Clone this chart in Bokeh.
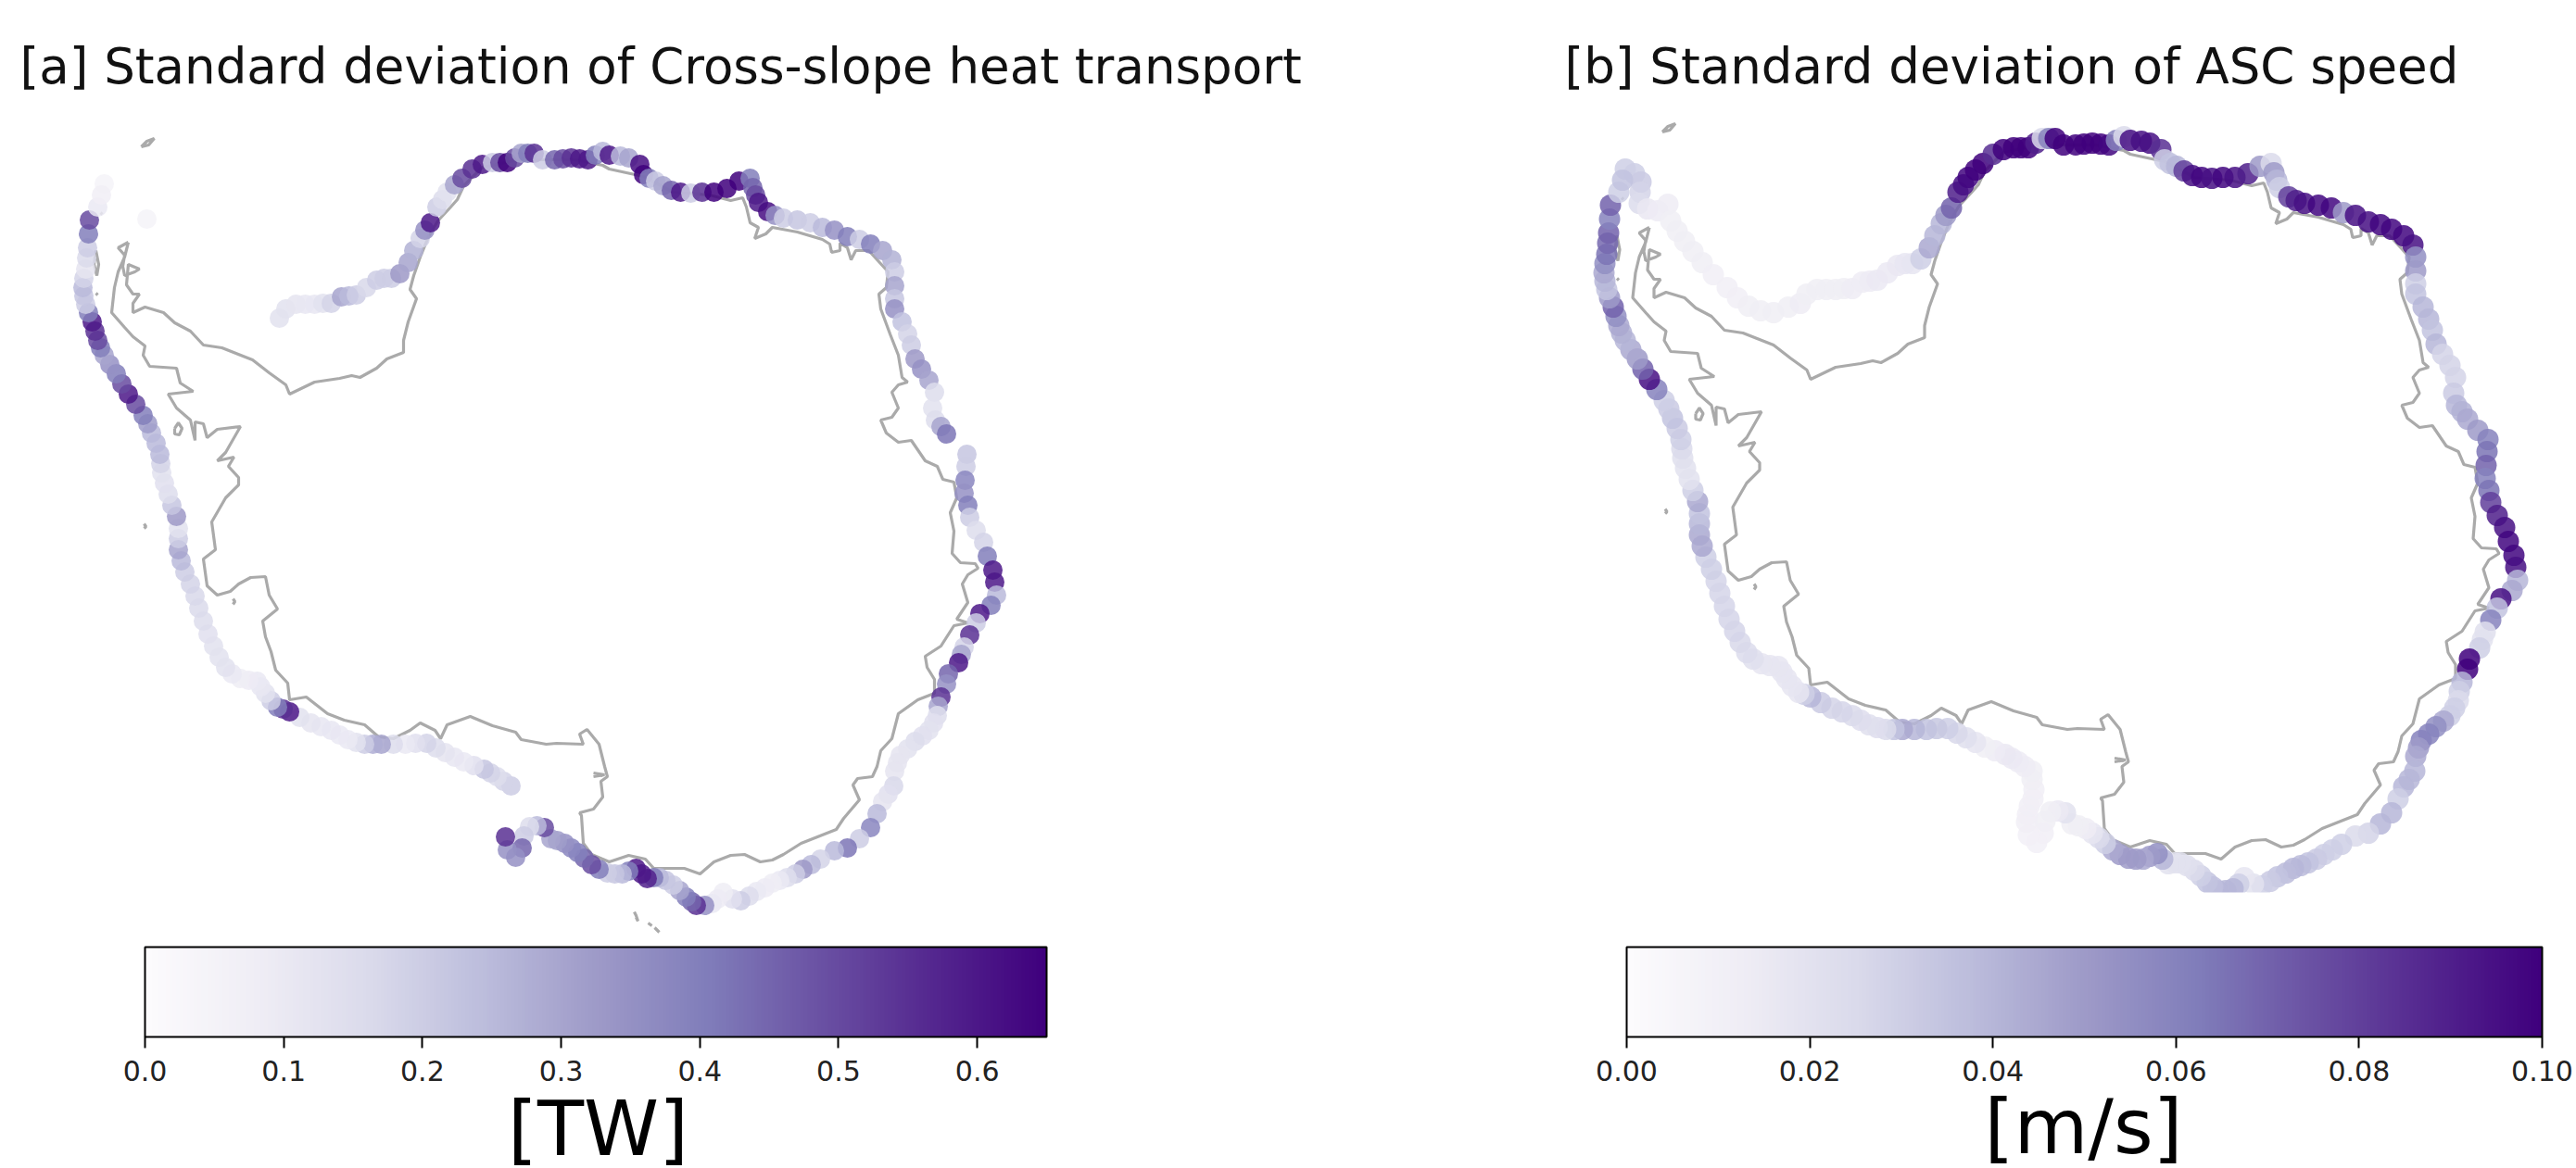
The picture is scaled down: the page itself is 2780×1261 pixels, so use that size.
import numpy as np
from bokeh.core.properties import value
from bokeh.embed import file_html
from bokeh.layouts import row
from bokeh.models import ColorBar, ColumnDataSource, FixedTicker, LinearColorMapper, Range1d
from bokeh.palettes import Purples256
from bokeh.plotting import figure
from bokeh.resources import INLINE
from bokeh.transform import transform

n = float("nan")

track_x = [
 112,122,129,128,127,136,147,158,161,168,
 176,185,195,207,222,233,245,258,272,288,
 301,308,319,329,339,348,357,368,376,384,
 395,406,414,422,431,440,446,453,458,464,
 471,477,482,490,498,509,520,531,539,547,
 555,562,569,576,585,598,607,616,625,634,
 642,650,657,669,678,690,694,700,707,715,
 724,734,745,757,770,784,797,809,812,815,
 818,828,836,845,860,874,887,900,914,927,
 939,952,962,965,965,965,965,973,979,983,
 987,994,1002,1008,1006,1009,1015,1021,1032,1043,
 1042,1041,1040,1044,1046,1053,1061,1065,1071,1073,
 1075,1069,1057,1053,1046,1040,1037,1034,1023,1021,
 1015,1012,1011,1007,1002,995,987,979,971,968,
 965,964,958,952,946,939,927,914,900,885,
 875,866,858,849,841,833,825,816,808,799,
 790,780,774,768,760,751,746,740,733,726,
 718,711,705,698,692,686,678,671,663,655,
 646,638,630,623,616,609,601,594,587,579,
 571,565,563,556,547,545,546,548,552,553,
 551,551,543,536,529,522,511,500,490,480,
 470,460,448,437,424,411,402,393,384,375,
 366,357,346,335,323,312,305,299,292,286,
 281,277,268,259,250,243,236,230,224,219,
 214,210,205,199,195,192,192,192,190,185,
 181,177,174,173,172,168,163,159,154,146,
 138,131,125,118,112,108,105,102,99,95,
 92,90,89,90,92,93,94,95,96,105,
 109]
track_y = [
 198,203,212,223,235,241,243,236,254,265,
 276,287,299,312,326,337,346,351,353,347,
 343,333,328,328,328,327,327,320,319,318,
 310,302,300,300,295,283,270,257,248,240,
 223,215,207,199,192,182,177,175,175,175,
 170,165,165,165,172,172,171,170,171,172,
 167,163,167,168,170,177,188,192,195,200,
 205,207,208,207,207,203,195,192,202,210,
 218,228,232,235,237,240,245,248,255,258,
 263,270,280,293,308,322,333,347,360,372,
 387,398,410,423,440,453,460,468,480,490,
 503,518,532,545,558,572,585,600,615,628,
 642,653,662,672,685,698,706,715,727,738,
 752,762,772,780,788,794,800,808,815,823,
 832,848,857,865,878,893,905,915,918,927,
 933,938,943,947,950,953,958,962,967,972,
 970,963,970,975,977,977,973,968,961,955,
 950,947,947,948,943,937,940,943,943,942,
 938,933,926,920,915,910,907,905,893,891,
 892,902,915,925,917,903,895,886,878,868,
 857,848,843,838,834,830,826,822,817,812,
 807,802,802,803,803,803,803,803,801,798,
 793,788,784,780,774,768,765,763,756,748,
 741,735,734,732,727,720,709,697,684,670,
 656,643,630,617,605,593,581,570,557,545,
 533,521,510,500,490,478,467,457,448,436,
 425,414,403,393,383,375,367,357,347,337,
 328,319,310,300,290,278,267,252,237,223,
 210]
heat_std = [
 .05,n,n,n,n,n,n,.05,n,n,
 n,n,n,n,n,n,n,n,n,n,
 .13,.13,.12,.11,.11,.13,.18,.3,.25,.2,
 .17,.2,.2,.2,.33,.3,.27,.18,.35,.6,
 .2,.15,.13,.3,.5,.55,.6,.2,.5,.65,
 .5,.3,.4,.55,.2,.45,.5,.55,.6,.6,
 .4,.25,.6,.25,.3,.62,.65,.4,.2,.3,
 .45,.6,.2,.55,.65,.65,.65,.4,.45,.5,
 .6,.62,.35,.2,.22,.2,.25,.35,.4,.2,
 .4,.3,.27,.2,.3,.22,.35,.23,.18,.2,
 .33,.35,.3,.15,.13,.15,.3,.42,n,.22,
 .2,.38,.35,.4,.2,.15,.18,.4,.6,.6,
 .25,.4,.6,.2,.55,.18,.3,.6,.45,.35,
 .55,.3,.15,.14,.13,.14,.15,.13,.12,.12,
 .12,.17,.14,.12,.25,.38,.2,.42,.25,.18,
 .25,.33,.2,.15,.1,.08,.09,.1,.15,.2,
 .14,.08,.09,.1,.35,.55,.45,.4,.3,.2,
 .22,.25,.4,.58,.6,.6,.4,.25,.22,.2,
 .4,.5,.45,.4,.38,.35,.32,.3,.5,.25,
 .15,.2,.45,.35,.35,.55,n,n,n,n,
 n,.2,.18,.15,.18,.22,.14,.1,.11,.12,
 .15,.18,.14,.1,.15,.3,.28,.2,.13,.1,
 .1,.11,.11,.12,.13,.6,.55,.4,.2,.13,
 .11,.1,.09,.08,.1,.13,.13,.13,.14,.15,
 .16,.17,.18,.2,.25,.3,.2,.13,.33,.22,
 .15,.14,.13,.18,.25,.25,.25,.32,.4,.5,
 .6,.5,.4,.35,.3,.4,.5,.55,.6,.4,
 .2,.22,.25,.18,.12,.16,.2,.4,.5,.1,
 .07]
speed_std = [
 .03,.03,.032,.028,.024,.016,.014,.013,.012,.012,
 .012,.012,.012,.011,.011,.011,.012,.012,.012,.012,
 .013,.012,.012,.012,.012,.012,.013,.013,.014,.015,
 .015,.016,.017,.018,.03,.045,.04,.04,.05,.07,
 .09,.095,.098,.1,.1,.085,.1,.1,.1,.1,
 .09,.025,.06,.1,.1,.1,.1,.1,.1,.098,
 .06,.025,.095,.095,.095,.085,.03,.035,.04,.08,
 .095,.098,.095,.098,.095,.09,.05,.025,.05,.04,
 .03,.08,.09,.095,.098,.098,.05,.095,.095,.098,
 .098,.098,.095,.055,.05,.03,.035,.04,.04,.035,
 .04,.028,.028,.028,.032,.04,.042,.045,.05,.06,
 .065,.07,.06,.065,.08,.09,.095,.098,.098,.095,
 .04,.045,.095,.035,.06,.022,.02,.03,.1,.1,
 .04,.03,.025,.03,.03,.045,.055,.06,.06,.05,
 .045,.04,.04,.04,.03,.04,.04,.028,.025,.03,
 .03,.03,.032,.035,.038,.04,.038,.035,.032,.03,
 .02,.018,.03,.04,.04,.04,.037,.035,.03,.025,
 .022,.02,.02,.02,.04,.055,.05,.045,.05,.05,
 .05,.045,.03,.025,.018,.013,.012,.012,.02,.015,
 .012,.012,.011,.01,.01,.011,.011,.011,.011,.011,
 .012,.012,.013,.014,.015,.016,.014,.012,.018,.022,
 .026,.03,.033,.035,.04,.045,.035,.025,.023,.022,
 .023,.025,.027,.028,.032,.04,.03,.018,.018,.018,
 .018,.018,.018,.018,.022,.024,.026,.027,.027,.027,
 .027,.027,.03,.03,.045,.045,.04,.035,.045,.03,
 .02,.02,.022,.025,.03,.032,.035,.032,.03,.06,
 .095,.07,.05,.045,.04,.042,.045,.055,.07,.05,
 .035,.04,.045,.055,.065,.068,.07,.06,.07,.03,
 .035]

coast_x = [138,127,134,132,134,145,150,138,136,143,150,143,143,156,176,188,205,219,239,272,290,308,312,339,366,379,388,406,417,435,435,440,449,442,446,453,462,472,485,493,500,520,560,620,650,657,694,726,765,788,801,805,809,818,814,826,833,860,887,895,897,906,906,914,918,923,937,958,956,948,950,960,969,973,979,969,962,969,962,950,956,969,983,998,1011,1017,1029,1032,1025,1029,1027,1036,1052,1055,1044,1038,1044,1032,1044,1029,1015,998,1000,1008,1008,990,969,962,950,946,941,925,920,927,910,902,864,845,833,820,803,788,770,755,738,705,696,678,657,638,629,627,625,640,650,648,655,652,646,633,625,629,600,589,562,556,531,507,482,475,469,453,442,424,408,393,371,353,330,312,310,297,292,286,283,299,290,286,270,257,248,234,223,219,232,228,243,257,257,246,252,234,243,259,234,223,219,210,210,205,190,181,208,194,190,161,154,156,143,134,120,123,127,134,138]
coast_y = [261,267,275,287,297,293,290,285,307,317,317,327,337,331,337,348,357,372,375,388,402,415,425,412,408,405,407,397,387,380,367,347,322,312,297,277,255,238,224,215,200,180,172,172,178,182,190,207,210,216,213,223,240,245,257,252,245,250,258,263,272,270,262,267,280,270,270,293,310,317,333,360,383,407,412,415,423,440,450,453,467,477,475,497,503,517,520,537,553,573,597,607,608,613,620,630,650,668,672,675,697,708,720,733,748,755,770,797,810,827,838,840,847,863,883,895,910,922,928,930,922,923,930,943,937,937,927,923,930,922,910,880,877,873,860,843,838,827,803,787,792,803,802,803,798,790,783,773,782,797,788,780,788,797,795,782,777,770,752,755,737,723,703,687,670,657,642,622,623,630,638,642,632,603,593,563,537,523,515,503,493,497,488,460,463,472,457,455,475,453,440,425,422,413,397,395,383,373,363,353,337,310,293,277,261]

islands_x = [[152,158,166,160,152],[155,157,155],[188,192,196,193,188,188],[251,253,251],[684,686,688,686],[699,703],[706,711],[640,652,640],[108,110],[103,105],[103,106,104,101,103],[644,650]]
islands_y = [[158,152,149,156,158],[565,568,570],[462,456,462,469,468,462],[646,649,652],[984,988,994,990],[996,999],[1001,1006],[834,836,838],[229,231],[316,318],[270,285,297,285,270],[835,837]]

panels = [
    dict(title="[a] Standard deviation of Cross-slope heat transport", vals=heat_std, high=0.65,
         ticks=[0.0, 0.1, 0.2, 0.3, 0.4, 0.5, 0.6], labels=["0.0", "0.1", "0.2", "0.3", "0.4", "0.5", "0.6"],
         unit="[TW]", unit_x=645, unit_y=1218, xr=(0, 1500), yr=(1261, 103), width=1500,
         bar_left=156, bar_width=973, title_off=21, size=21, mask_from=None),
    dict(title="[b] Standard deviation of ASC speed", vals=speed_std, high=0.10,
         ticks=[0.00, 0.02, 0.04, 0.06, 0.08, 0.10], labels=["0.00", "0.02", "0.04", "0.06", "0.08", "0.10"],
         unit="[m/s]", unit_x=606.5, unit_y=1232, xr=(1500 - 1641.5, 2780 - 1641.5), yr=(1277, 119), width=1280,
         bar_left=255, bar_width=988, title_off=188, size=23, mask_from=979),
]

figs = []
for cfg in panels:
    p = figure(width=cfg["width"], height=1261, output_backend="svg", toolbar_location=None,
               x_range=Range1d(*cfg["xr"]), y_range=Range1d(*cfg["yr"]),
               x_axis_type=None, y_axis_type=None,
               min_border_left=0, min_border_right=0, min_border_top=103, min_border_bottom=0)
    p.grid.visible = False
    p.outline_line_color = None
    p.title.text = cfg["title"]
    p.title.text_font = "DejaVu Sans"
    p.title.text_font_size = "53px"
    p.title.text_font_style = "normal"
    p.title.text_color = "#111111"
    p.title.offset = cfg["title_off"]
    p.title.standoff = 4

    p.line(coast_x, coast_y, line_color="#aaaaaa", line_width=3.2)
    p.multi_line(islands_x, islands_y, line_color="#aaaaaa", line_width=3.2)

    v = np.array(cfg["vals"], dtype=float)
    keep = ~np.isnan(v)
    src = ColumnDataSource(dict(x=np.array(track_x)[keep], y=np.array(track_y)[keep], v=v[keep]))
    mapper = LinearColorMapper(palette=list(reversed(Purples256)), low=0, high=cfg["high"])
    p.scatter("x", "y", source=src, size=cfg["size"], marker="circle",
              fill_color=transform("v", mapper), fill_alpha=0.85, line_color=None)

    if cfg["mask_from"] is not None:
        p.quad(left=cfg["xr"][0], right=cfg["xr"][1], top=cfg["mask_from"], bottom=cfg["mask_from"] + 40,
               fill_color="white", line_color=None)

    cb = ColorBar(color_mapper=mapper, orientation="horizontal", width=cfg["bar_width"], height=97,
                  location=(cfg["bar_left"], 92),
                  padding=0, background_fill_alpha=0, border_line_color=None,
                  bar_line_color="black", bar_line_width=2,
                  ticker=FixedTicker(ticks=cfg["ticks"]),
                  major_label_overrides=dict(zip(cfg["ticks"], cfg["labels"])),
                  major_label_text_font="DejaVu Sans", major_label_text_font_size="30px",
                  major_label_text_color="#222222",
                  major_tick_in=0, major_tick_out=12, major_tick_line_color="black", major_tick_line_width=2,
                  minor_tick_line_color=None, label_standoff=13)
    p.add_layout(cb, "center")
    p.text(x=[cfg["unit_x"]], y=[cfg["unit_y"]], text=[cfg["unit"]], text_align="center",
           text_baseline="alphabetic", text_font=value("DejaVu Sans"), text_font_size="82px", text_color="black")
    figs.append(p)

layout = row(*figs, spacing=0)
open("out.html", "w").write(file_html(layout, INLINE))
